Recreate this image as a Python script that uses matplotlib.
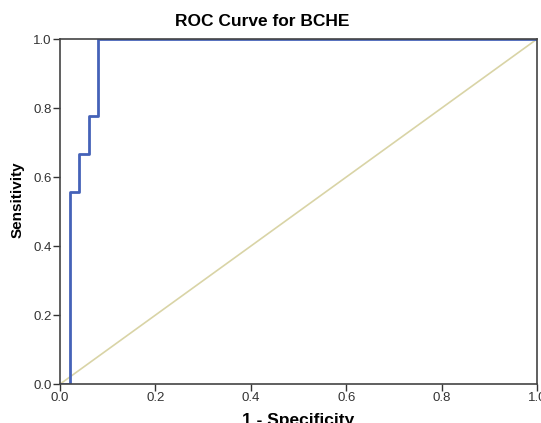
import matplotlib
matplotlib.use("Agg")
import matplotlib.pyplot as plt

# ROC curve points (1 - specificity, sensitivity)
fpr = [0.0, 0.02, 0.02, 0.04, 0.04, 0.06, 0.06, 0.08, 0.08, 1.0]
tpr = [0.0, 0.0, 0.556, 0.556, 0.667, 0.667, 0.778, 0.778, 1.0, 1.0]
ref_x = [0.0, 1.0]
ref_y = [0.0, 1.0]
ticks = [0.0, 0.2, 0.4, 0.6, 0.8, 1.0]
tick_labels = ["0.0", "0.2", "0.4", "0.6", "0.8", "1.0"]

plt.rcParams['font.family'] = ['Liberation Sans', 'DejaVu Sans']

fig = plt.figure(figsize=(5.41, 4.23), dpi=100)
ax = fig.add_axes([0.111, 0.092, 0.8816, 0.8156])

ax.plot(ref_x, ref_y, color='#d9d4a6', lw=1.2, zorder=1)
ax.plot(fpr, tpr, color='#4562b8', lw=2.0, zorder=2)

ax.set_xlim(0, 1)
ax.set_ylim(0, 1)
ax.set_xticks(ticks)
ax.set_xticklabels(tick_labels)
ax.set_yticks(ticks)
ax.set_yticklabels(tick_labels)
ax.tick_params(direction='out', length=5, width=1, labelsize=9.5, colors='#333333', pad=1)

for s in ax.spines.values():
    s.set_color('#444444')
    s.set_linewidth(1.2)

fig.text(0.485, 1 - 22 / 423, "ROC Curve for BCHE", fontsize=12.5, fontweight='bold',
         ha='center', va='center')
ax.set_xlabel("1 - Specificity", fontsize=12.5, fontweight='bold', labelpad=6)
ax.set_ylabel("Sensitivity", fontsize=11, fontweight='bold',
              family=['Liberation Sans Narrow', 'Liberation Sans', 'DejaVu Sans'], labelpad=6)
ax.yaxis.set_label_coords(-0.075, (384 - 200) / 345)

fig.savefig("out.png", dpi=100)
